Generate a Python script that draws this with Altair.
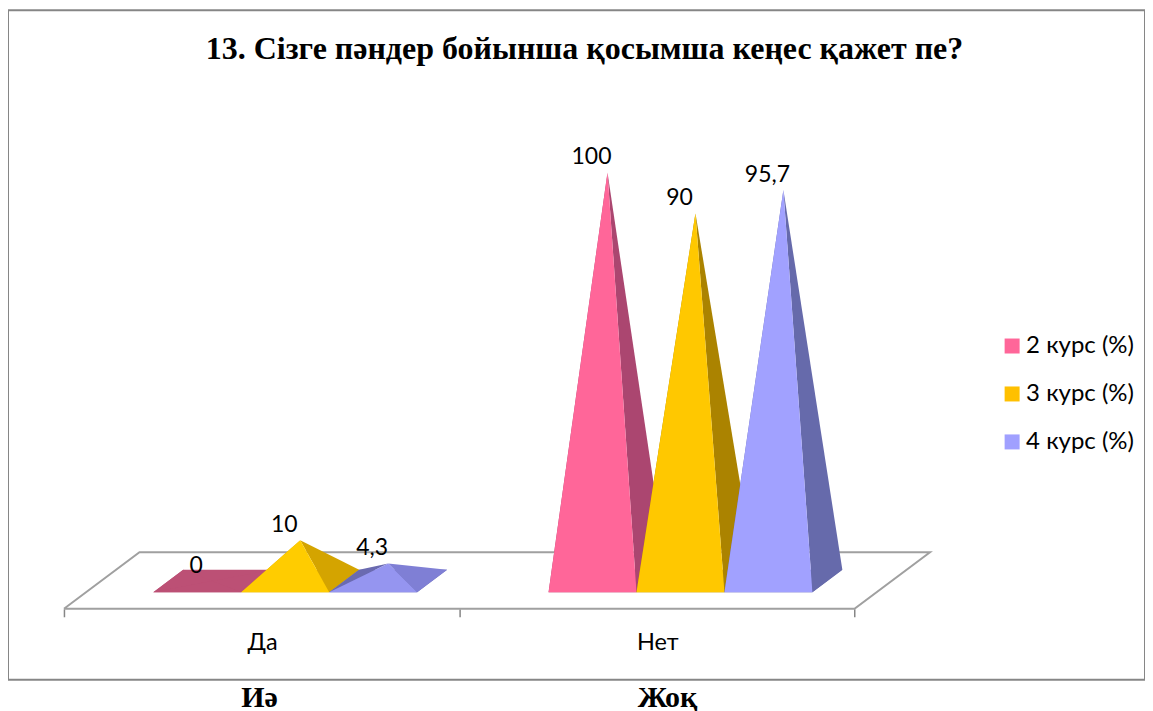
import altair as alt
import pandas as pd

TITLE = "13. Сізге пәндер бойынша қосымша кеңес қажет пе?"
COURSES = ["2 курс (%)", "3 курс (%)", "4 курс (%)"]
CATS = ["Да", "Нет"]
CATS_KK = ["Иә", "Жоқ"]
VALUES_DA = [0, 10, 4.3]
VALUES_NET = [100, 90, 95.7]
LABELS_DA = ["0", "10", "4,3"]
LABELS_NET = ["100", "90", "95,7"]
LEGEND_COLORS = ["#FF6699", "#FFC000", "#A0A0FF"]
FRONT_DA = ["#BC5075", "#FFCC00", "#9595F0"]
RIGHT_DA = ["#BC5075", "#D4A400", "#7F7FD5"]
LEFT_DA = ["#BC5075", "#D4A400", "#6A6AB0"]
FRONT_NET = ["#FF6699", "#FFC800", "#A1A1FF"]
RIGHT_NET = ["#AB4670", "#AB8300", "#666AAB"]
LEFT_NET = ["#AB4670", "#AB8300", "#666AAB"]

# horizontal unit = one category; vertical unit = one percent
W, D_X, D_Y = 0.2225, 0.0758, 5.5
GROUP_START = 0.226
FLOOR_SHIFT, FLOOR_FRONT, FLOOR_BACK = 0.191, -6.785, 7.03
X_DOMAIN = [-0.1416, 2.735]
Y_DOMAIN = [-24.15, 139.67]

faces, tops = [], []
fid = 0
def add(pts, col):
    global fid
    for i, (x, y) in enumerate(pts):
        faces.append(dict(face=f"f{fid:03d}", i=i, x=x, y=y, col=col))
    fid += 1

for g, (vals, labs, fr, ri, le) in enumerate([
    (VALUES_DA, LABELS_DA, FRONT_DA, RIGHT_DA, LEFT_DA),
    (VALUES_NET, LABELS_NET, FRONT_NET, RIGHT_NET, LEFT_NET),
]):
    for s, v in enumerate(vals):
        x0 = g + GROUP_START + s * W
        x1 = x0 + W
        yb = -D_Y / 2
        yk = D_Y / 2
        ax, ay = x0 + W / 2 + D_X / 2, v
        add([(x0, yb), (x1, yb), (x1 + D_X, yk), (x0 + D_X, yk)], le[s])
        add([(x0, yb), (x0 + D_X, yk), (ax, ay)], le[s])
        add([(x1, yb), (x1 + D_X, yk), (ax, ay)], ri[s])
        add([(x0, yb), (x1, yb), (ax, ay)], fr[s])
        tops.append(dict(x=ax, y=v, label=labs[s]))

df_faces = pd.DataFrame(faces)
df_tops = pd.DataFrame(tops)

floor = pd.DataFrame(dict(
    i=range(5),
    x=[0, 2, 2 + FLOOR_SHIFT, FLOOR_SHIFT, 0],
    y=[FLOOR_FRONT, FLOOR_FRONT, FLOOR_BACK, FLOOR_BACK, FLOOR_FRONT],
))

xs = alt.Scale(domain=X_DOMAIN, nice=False, zero=False)
ys = alt.Scale(domain=Y_DOMAIN, nice=False, zero=False)
X = alt.X("x:Q", scale=xs, title=None,
          axis=alt.Axis(values=[0, 1, 2], labels=False, domain=False, grid=False,
                        tickSize=8, tickColor="#868686", tickWidth=1.5, offset=-71))
Y = alt.Y("y:Q", scale=ys, title=None, axis=None)

floor_l = alt.Chart(floor).mark_line(color="#A0A0A0", strokeWidth=2).encode(
    x=X, y=Y, order="i:Q")

faces_l = alt.Chart(df_faces).mark_line(strokeWidth=0).encode(
    x=alt.X("x:Q", scale=xs), y=alt.Y("y:Q", scale=ys),
    fill=alt.Fill("col:N", scale=None),
    detail="face:N", order="i:Q")

tops_l = alt.Chart(df_tops).mark_text(
    font="Lato", fontSize=23, color="black", dx=-16, dy=-15, baseline="middle"
).encode(x=alt.X("x:Q", scale=xs), y=alt.Y("y:Q", scale=ys), text="label:N")

cats = pd.DataFrame(dict(x=[0.5, 1.5], y=[-15.1] * 2, label=CATS))
cats_l = alt.Chart(cats).mark_text(font="Lato", fontSize=23.5, color="black", baseline="middle", dx=1).encode(
    x=alt.X("x:Q", scale=xs), y=alt.Y("y:Q", scale=ys), text="label:N")

kk = pd.DataFrame(dict(x=[0.495, 1.527], y=[-28.7] * 2, label=CATS_KK))
kk_l = alt.Chart(kk).mark_text(font="Liberation Serif", fontSize=30, fontWeight="bold",
                               color="black", baseline="middle").encode(
    x=alt.X("x:Q", scale=xs), y=alt.Y("y:Q", scale=ys), text="label:N")

leg = pd.DataFrame(dict(course=COURSES, x=[0] * 3, y=[0] * 3))
leg_l = alt.Chart(leg).mark_square(size=0, opacity=0).encode(
    x=alt.X("x:Q", scale=xs), y=alt.Y("y:Q", scale=ys),
    color=alt.Color("course:N",
                    scale=alt.Scale(domain=COURSES, range=LEGEND_COLORS),
                    legend=alt.Legend(title=None, orient="none", legendX=993, legendY=324,
                                      symbolType="square", symbolSize=225, symbolOpacity=1,
                                      symbolStrokeWidth=0, labelFont="Lato", labelFontSize=24,
                                      labelColor="black", rowPadding=24, labelOffset=2,
                                      labelLimit=200)),
)

chart = alt.layer(floor_l, faces_l, tops_l, cats_l, kk_l, leg_l).properties(
    width=1138, height=670,
    title=alt.Title(TITLE, font="Liberation Serif", fontSize=32, fontWeight="bold",
                    color="black", anchor="middle", dx=8, dy=56, offset=0),
    padding={"left": 0, "top": 2, "right": 0, "bottom": 31},
    autosize=alt.AutoSizeParams(type="none"),
).configure_view(stroke="#868686", strokeWidth=2)

chart.save("out.html", embed_options={"renderer": "svg", "actions": False})
